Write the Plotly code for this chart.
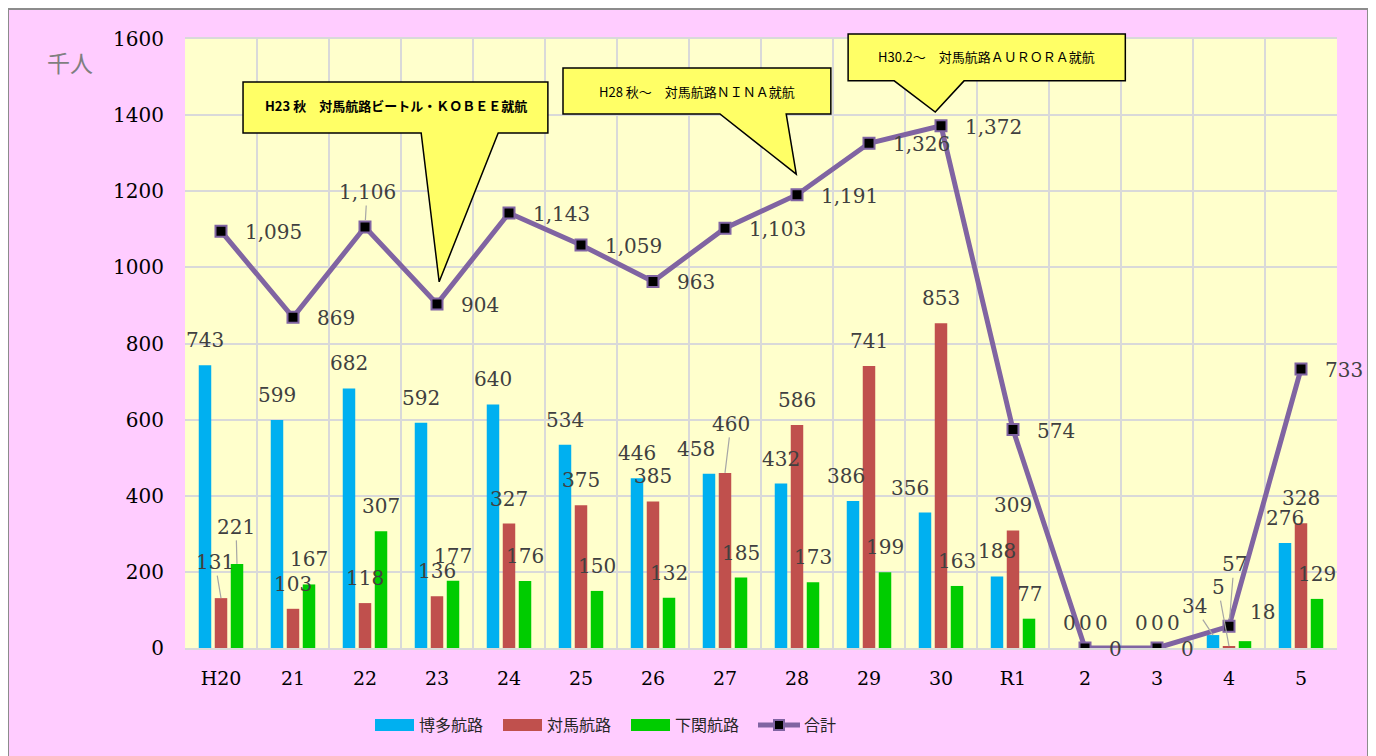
import plotly.graph_objects as go

# ---------------- data ----------------
categories = ["H20", "21", "22", "23", "24", "25", "26", "27", "28", "29", "30", "R1", "2", "3", "4", "5"]
hakata = [743, 599, 682, 592, 640, 534, 446, 458, 432, 386, 356, 188, 0, 0, 34, 276]
tsushima = [131, 103, 118, 136, 327, 375, 385, 460, 586, 741, 853, 309, 0, 0, 5, 328]
shimonoseki = [221, 167, 307, 177, 176, 150, 132, 185, 173, 199, 163, 77, 0, 0, 18, 129]
total = [1095, 869, 1106, 904, 1143, 1059, 963, 1103, 1191, 1326, 1372, 574, 0, 0, 57, 733]
series_names = ["博多航路", "対馬航路", "下関航路", "合計"]
y_ticks = [0, 200, 400, 600, 800, 1000, 1200, 1400, 1600]
unit_label = "千人"
callout_texts = [
    "<b>H23 秋　対馬航路ビートル・ＫＯＢＥＥ就航</b>",
    "H28 秋～　対馬航路ＮＩＮＡ就航",
    "H30.2～　対馬航路ＡＵＲＯＲＡ就航",
]

# ---------------- styles ----------------
bar_colors = ["#00B0F0", "#C0504D", "#00CC00"]
line_color = "#8064A2"
pink = "#FFCCFF"
plot_yellow = "#FFFFCC"
callout_fill = "#FFFF66"
grid_color = "#D9D9D9"
num_font = "DejaVu Serif"
jp_font = "Noto Sans CJK JP"
label_color = "#404040"

W, H = 1376, 756
ML, MR, MT, MB = 177, 47, 31, 116
PW, PH = W - ML - MR, H - MT - MB
PAGE_OFF = 8  # page body margin
n = len(categories)
ymax = y_ticks[-1]


def pgx(px):  # page pixel -> paper x
    return (px - PAGE_OFF - ML) / PW


def pgy(py):  # page pixel -> paper y
    return (H - MB - (py - PAGE_OFF)) / PH


def X(i):  # category index -> paper x
    return (i + 0.5) / n


def Y(v):  # value -> paper y
    return v / ymax


fig = go.Figure()
bar_series = [hakata, tsushima, shimonoseki]
for name, vals, col in zip(series_names[:3], bar_series, bar_colors):
    fig.add_trace(go.Bar(x=categories, y=vals, name=name, marker=dict(color=col, line=dict(width=0)),
                         showlegend=False))
fig.add_trace(go.Scatter(x=categories, y=total, name=series_names[3], mode="lines+markers",
                         line=dict(color=line_color, width=5),
                         marker=dict(symbol="square", size=11, color="black",
                                     line=dict(color=line_color, width=2)),
                         showlegend=False))

# ---------------- data labels ----------------
bar_dx = [-16, 0, 16]
label_dy = 25
shift_override = {(0, 7): (-29, 25), (0, 9): (-23, 25), (0, 10): (-31, 25), (2, 14): (33, 29)}
leader = {(1, 0): (-6, -36), (2, 0): (-1, -37), (1, 7): (6, -49),
          (0, 14): (-19, -29), (1, 14): (-11, -59)}
total_leader = {2: (2, -35), 14: (5, -62)}
lbl_font = dict(family=num_font, size=20, color=label_color)

annotations = []
for s, vals in enumerate(bar_series):
    for i, v in enumerate(vals):
        base = dict(x=i, y=v, xref="x", yref="y", text=f"{v:,}", font=lbl_font)
        if (s, i) in leader:
            ax, ay = leader[(s, i)]
            base.update(showarrow=True, ax=ax, ay=ay, xshift=bar_dx[s], arrowhead=0,
                        arrowwidth=1.2, arrowcolor="#A6A6A6", standoff=0)
        else:
            dx, dy = shift_override.get((s, i), (bar_dx[s], label_dy))
            base.update(showarrow=False, xshift=dx, yshift=dy, xanchor="center", yanchor="middle")
        annotations.append(base)

for i, v in enumerate(total):
    base = dict(x=i, y=v, xref="x", yref="y", text=f"{v:,}", font=lbl_font)
    if i in total_leader:
        ax, ay = total_leader[i]
        base.update(showarrow=True, ax=ax, ay=ay, arrowhead=0, arrowwidth=1.2,
                    arrowcolor="#A6A6A6", standoff=7)
    else:
        base.update(showarrow=False, xanchor="left", yanchor="middle", xshift=22, yshift=-1)
    annotations.append(base)

# unit label
annotations.append(dict(x=pgx(70), y=pgy(62), xref="paper", yref="paper", text=unit_label,
                        showarrow=False, xanchor="center", yanchor="middle",
                        font=dict(family=jp_font, size=23, color="#7F7F7F")))

shapes = []
# outer pink frame and plot background
shapes.append(dict(type="rect", xref="paper", yref="paper", x0=pgx(8), x1=pgx(1368),
                   y0=pgy(790), y1=pgy(9), fillcolor=pink,
                   line=dict(color="#8C8C8C", width=2), layer="below"))
shapes.append(dict(type="rect", xref="paper", yref="paper", x0=0, x1=1, y0=0, y1=1,
                   fillcolor=plot_yellow, line=dict(width=0), layer="below"))

# ---------------- callouts (category-index / value units) ----------------
callouts = [
    # left, right, top, bottom, wedge base a, wedge base b, tip x, tip y, text x, text y
    (0.306, 4.54, 1487, 1353, 2.78, 3.85, 3.03, 962, 2.43, 1424),
    (4.75, 8.47, 1524, 1403, 6.93, 7.85, 7.99, 1245, 6.61, 1462),
    (8.71, 12.56, 1613, 1490, 9.35, 10.32, 9.92, 1408, 10.625, 1553),
]
for (l, r, t, b, wa, wb, tx, ty, cx, cy), txt in zip(callouts, callout_texts):
    path = (f"M{X(l)},{Y(t)} L{X(r)},{Y(t)} L{X(r)},{Y(b)} L{X(wb)},{Y(b)} "
            f"L{X(tx)},{Y(ty)} L{X(wa)},{Y(b)} L{X(l)},{Y(b)} Z")
    shapes.append(dict(type="path", xref="paper", yref="paper", path=path,
                       fillcolor=callout_fill, line=dict(color="black", width=1.5), layer="above"))
    annotations.append(dict(x=X(cx), y=Y(cy), xref="paper", yref="paper", text=txt, showarrow=False,
                            xanchor="center", yanchor="middle",
                            font=dict(family=jp_font, size=13, color="black")))

# ---------------- legend (drawn manually to match wide swatches) ----------------
leg_font = dict(family=jp_font, size=16, color="#262626")
leg_y = 725
swatch_x = [375, 503, 631]
for name, col, sx in zip(series_names[:3], bar_colors, swatch_x):
    shapes.append(dict(type="rect", xref="paper", yref="paper", x0=pgx(sx), x1=pgx(sx + 39),
                       y0=pgy(leg_y + 6), y1=pgy(leg_y - 6), fillcolor=col, line=dict(width=0)))
    annotations.append(dict(x=pgx(sx + 42), y=pgy(leg_y - 1), xref="paper", yref="paper", text=name,
                            showarrow=False, xanchor="left", yanchor="middle", font=leg_font))
shapes.append(dict(type="line", xref="paper", yref="paper", x0=pgx(758), x1=pgx(800),
                   y0=pgy(leg_y), y1=pgy(leg_y), line=dict(color=line_color, width=5)))
shapes.append(dict(type="rect", xref="paper", yref="paper", x0=pgx(774), x1=pgx(784),
                   y0=pgy(leg_y + 5), y1=pgy(leg_y - 5), fillcolor="black",
                   line=dict(color=line_color, width=2)))
annotations.append(dict(x=pgx(802), y=pgy(leg_y - 1), xref="paper", yref="paper", text=series_names[3],
                        showarrow=False, xanchor="left", yanchor="middle", font=leg_font))

fig.update_layout(
    width=W, height=H,
    margin=dict(l=ML, r=MR, t=MT, b=MB, pad=0),
    paper_bgcolor="white",
    plot_bgcolor="rgba(0,0,0,0)",
    barmode="group", bargap=0.333, bargroupgap=0.22,
    showlegend=False,
    annotations=annotations,
    shapes=shapes,
    xaxis=dict(type="category", range=[-0.5, n - 0.5], tickson="boundaries", showgrid=True,
               gridcolor=grid_color, gridwidth=2,
               showline=True, linecolor=grid_color, linewidth=2, mirror=True, ticks="",
               tickangle=0, tickfont=dict(family=num_font, size=19, color="black"),
               ticklabelstandoff=12, zeroline=False),
    yaxis=dict(range=[0, ymax], tickvals=y_ticks, showgrid=True, gridcolor=grid_color, gridwidth=2,
               showline=False, ticks="", zeroline=False,
               tickfont=dict(family=num_font, size=20, color="black"), ticklabelstandoff=20),
)

fig.write_html("out.html")
